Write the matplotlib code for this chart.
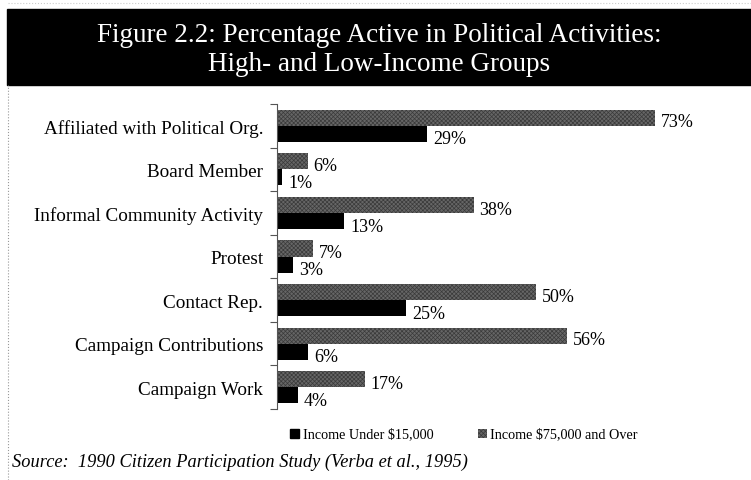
import matplotlib.pyplot as plt
import numpy as np
from matplotlib.patches import Rectangle
from matplotlib.lines import Line2D

activities = ["Affiliated with Political Org.", "Board Member",
              "Informal Community Activity", "Protest", "Contact Rep.",
              "Campaign Contributions", "Campaign Work"]
low_income = [29, 1, 13, 3, 25, 6, 4]
high_income = [73, 6, 38, 7, 50, 56, 17]
legend_labels = ["Income Under $15,000", "Income $75,000 and Over"]

plt.rcParams["font.family"] = ["Liberation Serif", "DejaVu Serif"]
plt.rcParams["hatch.linewidth"] = 0.5

fig = plt.figure(figsize=(7.51, 4.81), dpi=100)

# title band
fig.patches.append(Rectangle((7 / 751, 1 - 86 / 481), 1, 76 / 481,
                             transform=fig.transFigure, color="black", zorder=0))
fig.text(0.505, 1 - 36 / 481, "Figure 2.2: Percentage Active in Political Activities:",
         ha="center", va="center", color="white", fontsize=19.5)
fig.text(0.505, 1 - 65 / 481, "High- and Low-Income Groups",
         ha="center", va="center", color="white", fontsize=19.5)

# dotted frame
fig.lines.append(Line2D([8 / 751, 8 / 751], [0, 1 - 86 / 481], transform=fig.transFigure,
                        color="#999999", lw=0.8, ls=":"))
fig.lines.append(Line2D([8 / 751, 1], [1 - 4 / 481, 1 - 4 / 481], transform=fig.transFigure,
                        color="#cccccc", lw=0.8, ls=":"))

ax = fig.add_axes([277 / 751, 1 - 410 / 481, 414 / 751, 305 / 481])
y = np.arange(len(activities))
h = 0.37
gray = "#666666"

ax.barh(y - h / 2, high_income, height=h, color=gray, edgecolor="#3a3a3a",
        hatch="xxxxxxxx", linewidth=0)
ax.barh(y + h / 2, low_income, height=h, color="black", linewidth=0)

for i in range(len(activities)):
    ax.text(high_income[i] + 1.1, y[i] - h / 2 + 0.05, f"{high_income[i]}%",
            va="center_baseline", ha="left", fontsize=13)
    ax.text(low_income[i] + 1.2, y[i] + h / 2 + 0.07, f"{low_income[i]}%",
            va="center_baseline", ha="left", fontsize=13)

ax.set_xlim(0, 80)
ax.set_ylim(len(activities) - 0.5, -0.5)
for s in ["top", "right", "bottom"]:
    ax.spines[s].set_visible(False)
ax.spines["left"].set_color("#555555")
ax.spines["left"].set_linewidth(0.8)
ax.set_xticks([])
ax.set_yticks(np.arange(-0.5, len(activities), 1))
ax.set_yticklabels([])
ax.set_yticks(y, minor=True)
ax.set_yticklabels(activities, minor=True, fontsize=13.8)
ax.tick_params(axis="y", which="major", length=5, color="#555555", width=0.8)
ax.tick_params(axis="y", which="minor", length=0, pad=10)

# legend
fig.patches.append(Rectangle((290 / 751, 1 - 439 / 481), 9 / 751, 9 / 481,
                             transform=fig.transFigure, color="black"))
fig.text(303 / 751, 1 - 435 / 481, legend_labels[0], va="center", fontsize=10.2)
fig.patches.append(Rectangle((478 / 751, 1 - 439 / 481), 9 / 751, 9 / 481,
                             transform=fig.transFigure, facecolor=gray,
                             edgecolor="#3a3a3a", hatch="xxxxxxxx", linewidth=0))
fig.text(490 / 751, 1 - 435 / 481, legend_labels[1], va="center", fontsize=10.2)

fig.text(12 / 751, 1 - 462 / 481,
         "Source:  1990 Citizen Participation Study (Verba et al., 1995)",
         va="center", ha="left", fontsize=13.2, style="italic")

fig.savefig("out.png", dpi=100, facecolor="white")
